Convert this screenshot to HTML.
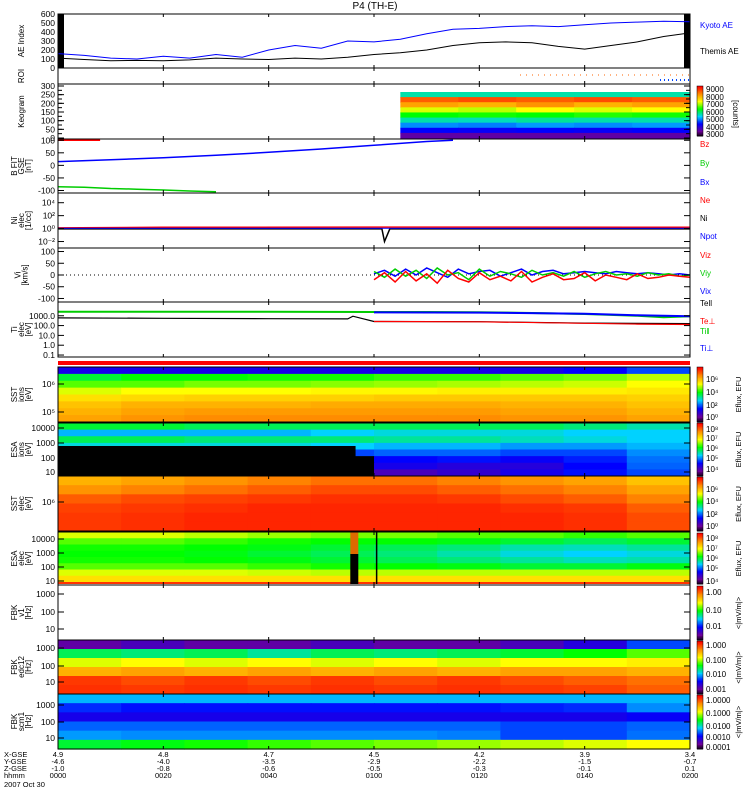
<!DOCTYPE html>
<html><head><meta charset="utf-8">
<style>
html,body{margin:0;padding:0;background:#fff;}
svg{display:block;font-family:"Liberation Sans",sans-serif;}
</style></head>
<body>
<svg id="chart" width="750" height="800" viewBox="0 0 750 800" xmlns="http://www.w3.org/2000/svg">
<text x="375" y="9" font-size="10" text-anchor="middle">P4 (TH-E)</text>
</svg>
<script>
// ---------- data ----------
const timeTickLabels = ['0000','0020','0040','0100','0120','0140','0200'];
const xgse = ['4.9','4.8','4.7','4.5','4.2','3.9','3.4'];
const ygse = ['-4.6','-4.0','-3.5','-2.9','-2.2','-1.5','-0.7'];
const zgse = ['-1.0','-0.8','-0.6','-0.5','-0.3','-0.1','0.1'];
const aeTimes = [0,5,10,15,20,25,30,35,40,45,50,55,60,65,70,75,80,85,90,95,100,105,110,115,120];
const kyotoAE = [160,140,110,100,130,110,150,120,200,250,220,300,290,320,380,430,440,460,470,460,480,500,510,520,515];
const themisAE = [110,95,80,85,80,90,110,100,95,110,100,120,150,170,200,250,280,290,280,240,210,250,290,350,390];
const bTimes = [0,10,20,30,40,50,60,70,75];
const bx = [15,22,30,40,52,65,80,95,100];
const byTimes = [0,5,10,15,20,25,30];
const by = [-85,-87,-92,-95,-98,-102,-105];
const bzTimes = [0,8];
const bz = [100,100];
const viTimes = [60,62,64,66,68,70,72,74,76,78,80,82,84,86,88,90,92,94,96,98,100,102,104,106,108,110,112,114,116,118,120];
const vz = [-20,10,-30,15,-25,5,-35,20,-15,-30,10,-20,-5,-25,15,-30,-10,5,-20,-15,10,-25,0,-10,-20,5,-15,-10,0,-5,-10];
const vy = [15,-10,25,-5,20,-15,30,0,10,-20,25,-5,15,5,-10,20,0,10,-5,15,-10,5,15,0,5,-5,10,0,5,-5,0];
const vx = [5,20,-5,25,0,30,10,-10,25,5,15,20,-5,10,25,0,15,20,5,10,15,10,5,15,10,5,10,5,0,5,0];
const tiTimes = [0,20,40,55,56,60,80,100,110,120];
const tiIon = [600,550,500,480,900,260,250,180,170,160];
const teTimes = [60,80,100,110,120];
const tePerp = [260,240,170,140,130];
const tellTimes = [0,20,40,60,70,80,90,100,110,115,120];
const tell = [2600,2600,2500,2400,2400,2300,1900,1500,1000,700,900];
const tiParTimes = [60,80,100,110,120];
const tiPar = [2200,2100,1600,1100,900];
// heatmap rows (top to bottom), values 0..1 across time columns
const sstIon = [
 [0.22,0.22,0.22,0.22,0.22,0.22,0.22,0.22,0.25,0.3],
 [0.52,0.55,0.55,0.56,0.56,0.58,0.58,0.6,0.62,0.66],
 [0.6,0.6,0.62,0.62,0.63,0.64,0.65,0.66,0.67,0.7],
 [0.68,0.7,0.7,0.7,0.71,0.71,0.72,0.72,0.72,0.73],
 [0.74,0.75,0.76,0.76,0.76,0.77,0.77,0.77,0.77,0.76],
 [0.78,0.8,0.8,0.8,0.81,0.81,0.81,0.8,0.8,0.78],
 [0.8,0.82,0.83,0.83,0.83,0.83,0.83,0.82,0.82,0.8],
 [0.82,0.84,0.85,0.85,0.85,0.85,0.85,0.84,0.84,0.82]];
const esaIon = [
 [0.52,0.52,0.5,0.5,0.5,0.5,0.5,0.5,0.48,0.45],
 [0.38,0.38,0.38,0.38,0.4,0.42,0.42,0.42,0.4,0.4],
 [0.5,0.5,0.48,0.48,0.48,0.46,0.46,0.44,0.42,0.4],
 [0.42,0.42,0.42,0.42,0.4,0.38,0.38,0.36,0.36,0.38],
 [0.3,0.3,0.3,0.3,0.3,0.32,0.32,0.3,0.3,0.35],
 [0,0,0,0,0,0.25,0.26,0.24,0.27,0.33],
 [0,0,0,0,0,0.22,0.2,0.2,0.25,0.32],
 [0,0,0,0,0,0.15,0.18,0.22,0.26,0.3]];
const sstEle = [
 [0.8,0.82,0.84,0.86,0.88,0.88,0.86,0.84,0.82,0.78],
 [0.84,0.86,0.88,0.9,0.92,0.92,0.9,0.88,0.86,0.82],
 [0.9,0.92,0.93,0.94,0.95,0.95,0.94,0.92,0.9,0.86],
 [0.93,0.94,0.95,0.96,0.96,0.96,0.96,0.95,0.94,0.9],
 [0.94,0.95,0.96,0.96,0.96,0.96,0.96,0.96,0.95,0.92],
 [0.94,0.95,0.96,0.96,0.96,0.96,0.96,0.96,0.95,0.92]];
const esaEle = [
 [0.68,0.68,0.66,0.64,0.62,0.62,0.6,0.6,0.58,0.6],
 [0.6,0.6,0.58,0.56,0.55,0.55,0.54,0.52,0.5,0.52],
 [0.56,0.56,0.55,0.54,0.52,0.5,0.48,0.45,0.44,0.46],
 [0.55,0.55,0.54,0.52,0.5,0.48,0.45,0.42,0.4,0.42],
 [0.56,0.56,0.55,0.54,0.52,0.5,0.48,0.46,0.44,0.45],
 [0.6,0.6,0.6,0.58,0.56,0.55,0.54,0.52,0.52,0.54],
 [0.68,0.68,0.68,0.67,0.66,0.66,0.66,0.66,0.66,0.66],
 [0.74,0.74,0.74,0.74,0.74,0.74,0.74,0.74,0.74,0.74]];
const fbkEdc = [
 [0.12,0.15,0.12,0.12,0.15,0.12,0.12,0.15,0.2,0.3],
 [0.5,0.48,0.5,0.46,0.5,0.48,0.5,0.52,0.55,0.6],
 [0.68,0.7,0.68,0.7,0.68,0.7,0.68,0.7,0.7,0.72],
 [0.8,0.82,0.8,0.82,0.8,0.82,0.8,0.82,0.82,0.8],
 [0.94,0.92,0.94,0.92,0.94,0.92,0.94,0.92,0.9,0.88],
 [0.95,0.94,0.95,0.94,0.95,0.94,0.95,0.94,0.93,0.9]];
const fbkScm = [
 [0.38,0.38,0.38,0.38,0.38,0.38,0.38,0.38,0.38,0.38],
 [0.28,0.26,0.26,0.26,0.26,0.26,0.26,0.27,0.28,0.35],
 [0.22,0.22,0.22,0.22,0.22,0.22,0.22,0.22,0.22,0.24],
 [0.32,0.32,0.32,0.32,0.32,0.32,0.32,0.3,0.3,0.32],
 [0.36,0.35,0.35,0.35,0.35,0.35,0.34,0.3,0.3,0.33],
 [0.52,0.54,0.56,0.58,0.6,0.62,0.64,0.66,0.68,0.7]];
const keogram = [
 [0.45,0.45,0.45,0.45,0.45],
 [0.9,0.92,0.9,0.92,0.9],
 [0.82,0.8,0.84,0.8,0.82],
 [0.68,0.66,0.7,0.68,0.7],
 [0.55,0.56,0.55,0.57,0.56],
 [0.45,0.44,0.46,0.45,0.45],
 [0.35,0.34,0.36,0.35,0.36],
 [0.25,0.24,0.25,0.24,0.25],
 [0.12,0.12,0.12,0.12,0.12]];

// ---------- helpers ----------
const svg = document.getElementById('chart');
const NS = 'http://www.w3.org/2000/svg';
const X0 = 58, X1 = 690;
function xT(t){ return X0 + t/120*(X1-X0); }
function mk(tag, attrs, parent){
  const e = document.createElementNS(NS, tag);
  for (const k in attrs) e.setAttribute(k, attrs[k]);
  (parent||svg).appendChild(e); return e;
}
function cmap(v){
  const st=[[0,[0,0,0]],[0.1,[110,0,150]],[0.25,[0,0,255]],[0.4,[0,210,255]],[0.55,[0,255,0]],[0.7,[255,255,0]],[0.85,[255,140,0]],[1,[255,0,0]]];
  v=Math.max(0,Math.min(1,v));
  for(let i=1;i<st.length;i++){ if(v<=st[i][0]){ const a=st[i-1],b=st[i],f=(v-a[0])/(b[0]-a[0]);
    return 'rgb('+a[1].map((c,j)=>Math.round(c+(b[1][j]-c)*f)).join(',')+')'; } }
  return 'rgb(255,0,0)';
}
function lin(v,lo,hi,top,bot){ return bot-(v-lo)/(hi-lo)*(bot-top); }
function lg(v,lo,hi,top,bot){ return bot-(Math.log10(v)-lo)/(hi-lo)*(bot-top); }
function heat(name, rows, t0, t1, top, bot){
  const g = mk('g',{});
  
  
  const rh=(bot-top)/rows.length;
  rows.forEach((row,ri)=>{
    const n=row.length, dt=(t1-t0)/n;
    row.forEach((v,ci)=>{
      const r=mk('rect',{x:xT(t0+ci*dt).toFixed(2),y:(top+ri*rh).toFixed(2),width:(xT(t0+dt)-xT(t0)+0.6).toFixed(2),height:(rh+0.6).toFixed(2),fill:cmap(v)},g);
      
      
    });
  });
}
function line(name, ts, vs, yf, color, w){
  const p=ts.map((t,i)=>xT(t).toFixed(1)+','+yf(vs[i]).toFixed(1)).join(' ');
  const e=mk('polyline',{points:p,fill:'none',stroke:color,'stroke-width':w||1});
  
  
}
function frame(name, top, bot){
  const r=mk('rect',{x:X0,y:top,width:X1-X0,height:bot-top,fill:'none',stroke:'#000','stroke-width':1});
  
  
  for(let i=1;i<6;i++){ const x=X0+i*(X1-X0)/6;
    mk('line',{x1:x,y1:top,x2:x,y2:top+3,stroke:'#000'}); mk('line',{x1:x,y1:bot,x2:x,y2:bot-3,stroke:'#000'}); }
}
function yt(label, y, minor){
  mk('line',{x1:X0,y1:y,x2:X0+6,y2:y,stroke:'#000'});
  mk('line',{x1:X1,y1:y,x2:X1-6,y2:y,stroke:'#000'});
  if(label!==''){ const t=mk('text',{x:X0-3,y:y+3,'font-size':8.5,'text-anchor':'end'}); t.textContent=label;
      }
}
function ylab(name, lines, top, bot){
  const cy=(top+bot)/2, n=lines.length;
  lines.forEach((s,i)=>{
    const x=24+(i-(n-1)/2)*7;
    const t=mk('text',{x:x,y:cy,'font-size':8,'text-anchor':'middle',transform:'rotate(-90 '+x+' '+cy+')'});
    t.textContent=s;
    
    
  });
}
function txt(name,s,x,y,color,size,anchor){
  const t=mk('text',{x:x,y:y,'font-size':size||8,fill:color||'#000','text-anchor':anchor||'start'});
  t.textContent=s;   return t;
}
function vunit(s, top, bot){
  const cy=(top+bot)/2;
  const t=txt('colorbar-unit',s,741,cy,'#000',7.5,'middle');
  t.setAttribute('transform','rotate(-90 741 '+cy+')');
}
function cbar(name, top, bot, labels){
  const g=mk('g',{});  
  const n=40;
  for(let i=0;i<n;i++) mk('rect',{x:697,y:top+(bot-top)*i/n,width:6,height:(bot-top)/n+0.5,fill:cmap(1-i/n)},g);
  mk('rect',{x:697,y:top,width:6,height:bot-top,fill:'none',stroke:'#000','stroke-width':0.5},g);
  labels.forEach(l=>{ txt('colorbar-label',l[0],706,l[1],'#000',8); });
}

// ---------- AE panel ----------
const aeY=v=>lin(v,0,600,14,68);
mk('rect',{x:X0,y:14,width:6,height:54,fill:'#000'});
mk('rect',{x:X1-6,y:14,width:6,height:54,fill:'#000'});
line('kyoto-ae-line', aeTimes, kyotoAE, aeY, '#0000ff');
line('themis-ae-line', aeTimes, themisAE, aeY, '#000');
frame('ae-panel',14,68);
[0,100,200,300,400,500,600].forEach(v=>yt(String(v),aeY(v)));
ylab('ae-y-title',['AE Index'],14,68);
txt('legend-kyoto-ae','Kyoto AE',700,28,'#0000ff',8);
txt('legend-themis-ae','Themis AE',700,54,'#000',8);

// ---------- ROI ----------
frame('roi-panel',68,84);
ylab('roi-y-title',['ROI'],68,84);
for(let x=520;x<690;x+=6) mk('rect',{x:x,y:74.5,width:1,height:1,fill:'#ff6600'});
for(let x=660;x<690;x+=4) mk('rect',{x:x,y:79,width:1,height:2,fill:'#0044ff'});

// ---------- Keogram ----------
heat('keogram-heatmap', keogram, 65, 120, 92, 138);
frame('keogram-panel',84,139);
const kY=v=>lin(v,0,300,86,138);
[0,50,100,150,200,250,300].forEach(v=>yt(String(v),kY(v)));
for(let v=25;v<300;v+=25) { mk('line',{x1:X0,y1:kY(v),x2:X0+4,y2:kY(v),stroke:'#000'}); mk('line',{x1:X1,y1:kY(v),x2:X1-4,y2:kY(v),stroke:'#000'}); }
ylab('keogram-y-title',['Keogram'],84,139);
cbar('keogram-colorbar',86,136,[['9000',92],['8000',100],['7000',107],['6000',115],['5000',122],['4000',130],['3000',137]]);
txt('colorbar-unit','[counts]',733,100,'#000',8).setAttribute('transform','rotate(90 733 100)');

// ---------- B field ----------
const bY=v=>lin(v,-110,105,139,193);
line('bz-line', bzTimes, bz, bY, '#ff0000', 1.5);
line('bx-line', bTimes, bx, bY, '#0000ff', 1.5);
line('by-line', byTimes, by, bY, '#00cc00', 1.5);
frame('b-panel',139,193);
[[100,'100'],[50,'50'],[0,'0'],[-50,'-50'],[-100,'-100']].forEach(a=>yt(a[1],bY(a[0])));
ylab('b-y-title',['B FIT','GSE','[nT]'],139,193);
txt('legend-bz','Bz',700,147,'#ff0000',8);
txt('legend-by','By',700,166,'#00cc00',8);
txt('legend-bx','Bx',700,185,'#0000ff',8);

// ---------- Ni ----------
const nY=v=>lg(v,-3,5.5,193,248);
line('ne-line',[0,20,60,120],[1.3,1.6,1.7,1.6],nY,'#ff0000',1.5);
line('ni-line',[0,60,61.5,62,63,120],[0.9,0.9,0.9,0.01,0.9,0.9],nY,'#000',1.5);
line('npot-line',[0,60,120],[1.1,1.1,1.1],nY,'#0000ff',1);
frame('n-panel',193,248);
[['10⁴',1e4],['10²',1e2],['10⁰',1],['10⁻²',1e-2]].forEach(a=>yt(a[0],nY(a[1])));
ylab('n-y-title',['Ni','elec','[1/cc]'],193,248);
txt('legend-ne','Ne',700,203,'#ff0000',8);
txt('legend-ni','Ni',700,221,'#000',8);
txt('legend-npot','Npot',700,239,'#0000ff',8);

// ---------- Vi ----------
const vY=v=>lin(v,-115,115,248,302);
mk('line',{x1:X0,y1:vY(0),x2:X1,y2:vY(0),stroke:'#000','stroke-dasharray':'1,3'});
line('vx-line', viTimes, vx, vY, '#0000ff', 1.5);
line('vy-line', viTimes, vy, vY, '#00cc00', 1.5);
line('vz-line', viTimes, vz, vY, '#ff0000', 1.5);
frame('v-panel',248,302);
[[100,'100'],[50,'50'],[0,'0'],[-50,'-50'],[-100,'-100']].forEach(a=>yt(a[1],vY(a[0])));
ylab('v-y-title',['Vi','[km/s]'],248,302);
txt('legend-vz','Viz',700,258,'#ff0000',8);
txt('legend-vy','Viy',700,276,'#00cc00',8);
txt('legend-vx','Vix',700,294,'#0000ff',8);

// ---------- Temperatures ----------
const tY=v=>lg(v,-1.2,4.4,302,357);
line('tell-line', tellTimes, tell, tY, '#00cc00', 2);
line('tipar-line', tiParTimes, tiPar, tY, '#0000ff', 2);
line('ti-line', tiTimes, tiIon, tY, '#000', 1.2);
line('teperp-line', teTimes, tePerp, tY, '#ff0000', 1.2);
frame('t-panel',302,357);
[['1000.0',1000],['100.0',100],['10.0',10],['1.0',1],['0.1',0.1]].forEach(a=>yt(a[0],tY(a[1])));
ylab('t-y-title',['Ti','elec','[eV]'],302,357);
txt('legend-tell','Tell',700,306,'#000',8);
txt('legend-teperp','Te⊥',700,324,'#ff0000',8);
txt('legend-tipar','Ti‖',700,334,'#00cc00',8);
txt('legend-tiperp','Ti⊥',700,351,'#0000ff',8);

// red status bar
mk('rect',{x:X0,y:361,width:X1-X0,height:4,fill:'#ff0000'});

// ---------- SST ion ----------
heat('sst-ion-heatmap', sstIon, 0, 120, 367, 422);
frame('sst-ion-panel',367,422);
yt('10⁶',384); yt('10⁵',412);
ylab('sst-ion-y-title',['SST','ions','[eV]'],367,422);
cbar('sst-ion-colorbar',367,422,[['10⁶',382],['10⁴',395],['10²',408],['10⁰',420]]);
vunit('Eflux, EFU',367,422);

// ---------- ESA ion ----------
heat('esa-ion-heatmap', esaIon, 0, 120, 423, 476);
mk('rect',{x:X0,y:446,width:xT(56.5)-X0,height:30,fill:'#000'});
frame('esa-ion-panel',423,476);
[['10000',428],['1000',443],['100',458],['10',472]].forEach(a=>yt(a[0],a[1]));
ylab('esa-ion-y-title',['ESA','ions','[eV]'],423,476);
cbar('esa-ion-colorbar',423,476,[['10⁸',432],['10⁷',441],['10⁶',451],['10⁵',461],['10⁴',472]]);
vunit('Eflux, EFU',423,476);

// ---------- SST elec ----------
heat('sst-elec-heatmap', sstEle, 0, 120, 476, 531);
frame('sst-elec-panel',476,531);
yt('10⁶',502);
ylab('sst-elec-y-title',['SST','elec','[eV]'],476,531);
cbar('sst-elec-colorbar',477,531,[['10⁶',492],['10⁴',504],['10²',517],['10⁰',529]]);
vunit('Eflux, EFU',477,531);

// ---------- ESA elec ----------
heat('esa-elec-heatmap', esaEle, 0, 120, 532, 582);
mk('rect',{x:X0,y:582,width:X1-X0,height:2,fill:'#ff3300'});
mk('rect',{x:xT(55.5),y:532,width:8,height:22,fill:'#dd6a00'});
mk('rect',{x:xT(55.5),y:554,width:8,height:30,fill:'#000'});
mk('line',{x1:xT(60.5),y1:532,x2:xT(60.5),y2:584,stroke:'#000','stroke-width':1.5});
frame('esa-elec-panel',532,585);
[['10000',539],['1000',553],['100',567],['10',581]].forEach(a=>yt(a[0],a[1]));
ylab('esa-elec-y-title',['ESA','elec','[eV]'],532,585);
cbar('esa-elec-colorbar',533,584,[['10⁸',541],['10⁷',551],['10⁶',561],['10⁵',571],['10⁴',584]]);
vunit('Eflux, EFU',533,584);

// ---------- FBK v1 ----------
frame('fbk-v1-panel',585,640);
[['1000',594],['100',612],['10',629]].forEach(a=>yt(a[0],a[1]));
ylab('fbk-v1-y-title',['FBK','v1','[Hz]'],585,640);
cbar('fbk-v1-colorbar',586,640,[['1.00',595],['0.10',613],['0.01',629]]);
vunit('<|mV/m|>',586,640);

// ---------- FBK edc12 ----------
heat('fbk-edc12-heatmap', fbkEdc, 0, 120, 640, 694);
frame('fbk-edc12-panel',640,694);
[['1000',648],['100',666],['10',682]].forEach(a=>yt(a[0],a[1]));
ylab('fbk-edc12-y-title',['FBK','edc12','[Hz]'],640,694);
cbar('fbk-edc12-colorbar',641,694,[['1.000',648],['0.100',663],['0.010',677],['0.001',692]]);
vunit('<|mV/m|>',641,694);

// ---------- FBK scm1 ----------
heat('fbk-scm1-heatmap', fbkScm, 0, 120, 694, 749);
frame('fbk-scm1-panel',694,749);
[['1000',705],['100',722],['10',738]].forEach(a=>yt(a[0],a[1]));
ylab('fbk-scm1-y-title',['FBK','scm1','[Hz]'],694,749);
cbar('fbk-scm1-colorbar',695,749,[['1.0000',703],['0.1000',716],['0.0100',729],['0.0010',740],['0.0001',750]]);
vunit('<|mV/m|>',695,749);

// ---------- bottom axis labels ----------
[['X-GSE',757],['Y-GSE',764],['Z-GSE',771],['hhmm',778]].forEach(r=>txt('axis-row-label',r[0],4,r[1],'#000',7.5));
txt('date-label','2007 Oct 30',4,787,'#000',7.5);
timeTickLabels.forEach((s,i)=>{
  const x=xT(i*20);
  txt('x-gse-label',xgse[i],x,757,'#000',7.5,'middle');
  txt('y-gse-label',ygse[i],x,764,'#000',7.5,'middle');
  txt('z-gse-label',zgse[i],x,771,'#000',7.5,'middle');
  txt('time-tick-label',s,x,778,'#000',7.5,'middle');
});
</script>
</body></html>
